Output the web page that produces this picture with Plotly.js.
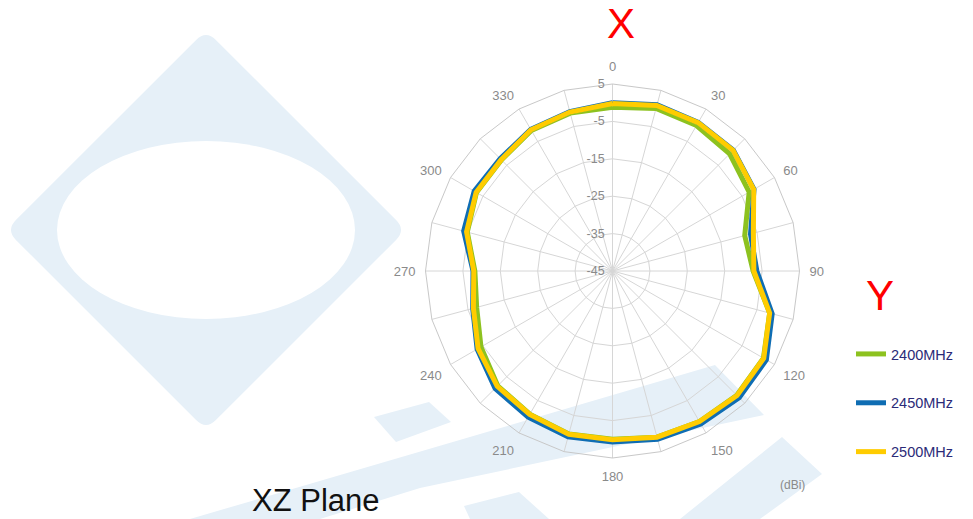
<!DOCTYPE html>
<html>
<head>
<meta charset="utf-8">
<script src="https://cdn.plot.ly/plotly-3.0.1.min.js"></script>
<style>
  html, body { margin: 0; padding: 0; background: #ffffff; }
  #chart { width: 973px; height: 519px; }
</style>
</head>
<body>
<div id="chart"></div>
<script>
// ---- Data (gain in dBi, every 15 degrees) ----
const angles = ['0','15','30','45','60','75','90','105','120','135','150','165',
                '180','195','210','225','240','255','270','285','300','315','330','345'];
const angleLabels = ['0','','30','','60','','90','','120','','150','',
                     '180','','210','','240','','270','','300','','330',''];
const seriesNames = ['2400MHz', '2450MHz', '2500MHz'];
const gain2400 = [-1.2, 0.0, -0.1, -0.7, -2.8, -8.4, -7.4, -1.5, 1.6, 2.0, 1.5, 1.0,
                  0.0, 0.1, -0.8, -1.6, -4.4, -7.4, -8.2, -4.8, -3.0, -3.0, -1.6, -1.3];
const gain2450 = [0.0, 1.0, 0.9, 0.7, -1.3, -6.8, -6.4, -0.8, 2.5, 2.9, 2.2, 1.6,
                  0.7, 0.9, 0.1, -0.6, -3.2, -6.3, -7.7, -3.8, -2.3, -2.5, -1.3, -0.9];
const gain2500 = [-0.2, 0.8, 0.8, 0.6, -1.4, -6.0, -7.2, -1.5, 1.7, 2.1, 1.5, 1.0,
                  0.1, 0.2, -0.7, -1.4, -3.5, -6.5, -7.9, -4.6, -2.9, -2.9, -1.4, -1.0];
const radialTicks = [-45, -35, -25, -15, -5, 5];

// ---- Page geometry helpers (decoration only) ----
const W = 973, H = 519;
const px = x => x / W;
const py = y => 1 - y / H;
function pathFromPx(pts) {
  return 'M' + pts.map(p => px(p[0]).toFixed(5) + ',' + py(p[1]).toFixed(5)).join(' L') + ' Z';
}
const wmColor = '#e6f0f8';

// rounded diamond of the watermark
function roundedDiamond(cx, cy, R, rc) {
  const v = [[cx, cy - R], [cx + R, cy], [cx, cy + R], [cx - R, cy]];
  let d = '';
  for (let i = 0; i < 4; i++) {
    const p = v[i], prev = v[(i + 3) % 4], next = v[(i + 1) % 4];
    const l1 = Math.hypot(prev[0] - p[0], prev[1] - p[1]);
    const l2 = Math.hypot(next[0] - p[0], next[1] - p[1]);
    const a = [p[0] + (prev[0] - p[0]) * rc / l1, p[1] + (prev[1] - p[1]) * rc / l1];
    const b = [p[0] + (next[0] - p[0]) * rc / l2, p[1] + (next[1] - p[1]) * rc / l2];
    d += (i === 0 ? 'M' : ' L') + px(a[0]).toFixed(5) + ',' + py(a[1]).toFixed(5);
    d += ' Q' + px(p[0]).toFixed(5) + ',' + py(p[1]).toFixed(5) + ' ' + px(b[0]).toFixed(5) + ',' + py(b[1]).toFixed(5);
  }
  return d + ' Z';
}

const shapes = [
  { type: 'path', xref: 'paper', yref: 'paper', layer: 'below',
    path: roundedDiamond(206, 230, 200, 14), fillcolor: wmColor, line: { width: 0 } },
  { type: 'circle', xref: 'paper', yref: 'paper', layer: 'below',
    x0: px(57), x1: px(355), y0: py(141), y1: py(319), fillcolor: '#ffffff', line: { width: 0 } },
  { type: 'path', xref: 'paper', yref: 'paper', layer: 'below',
    path: pathFromPx([[374, 417], [429, 402], [451, 422], [396, 442]]), fillcolor: wmColor, line: { width: 0 } },
  { type: 'path', xref: 'paper', yref: 'paper', layer: 'below',
    path: pathFromPx([[190, 519], [715, 365], [764, 415], [420, 488], [320, 519]]), fillcolor: wmColor, line: { width: 0 } },
  { type: 'path', xref: 'paper', yref: 'paper', layer: 'below',
    path: pathFromPx([[464, 506], [519, 492], [549, 519], [470, 519]]), fillcolor: wmColor, line: { width: 0 } },
  { type: 'path', xref: 'paper', yref: 'paper', layer: 'below',
    path: pathFromPx([[680, 519], [782, 437], [822, 474], [760, 519]]), fillcolor: wmColor, line: { width: 0 } }
];

function closed(arr) { return arr.concat([arr[0]]); }

const colors = ['#8dc21f', '#0f6db3', '#ffcc00'];
const widths = [5, 5, 5];
const gains = [gain2400, gain2450, gain2500];

const traces = gains.map((g, i) => ({
  type: 'scatterpolar',
  mode: 'lines',
  name: seriesNames[i],
  legendgroup: 'g' + i,
  r: closed(g),
  theta: closed(angles),
  line: { color: colors[i], width: widths[i] },
  hoverinfo: 'skip'
}));

const cx = 612.5, cy = 271, R = 187;

const layout = {
  width: W, height: H,
  margin: { l: 0, r: 0, t: 0, b: 0 },
  paper_bgcolor: '#ffffff',
  font: { family: 'Liberation Sans, Arial, sans-serif', color: '#888888', size: 12 },
  showlegend: true,
  legend: {
    x: px(851), y: py(338), xanchor: 'left', yanchor: 'top',
    bgcolor: 'rgba(0,0,0,0)', borderwidth: 0,
    tracegroupgap: 27,
    font: { family: 'Liberation Sans, Arial, sans-serif', size: 14.5, color: '#2b2a78' }
  },
  polar: {
    domain: { x: [px(cx - R), px(cx + R)], y: [py(cy + R), py(cy - R)] },
    bgcolor: 'rgba(0,0,0,0)',
    gridshape: 'linear',
    angularaxis: {
      type: 'category',
      categoryorder: 'array',
      categoryarray: angles,
      rotation: 90,
      direction: 'clockwise',
      tickmode: 'array',
      tickvals: angles,
      ticktext: angleLabels,
      ticks: 'outside',
      ticklen: 7,
      tickcolor: 'rgba(0,0,0,0)',
      showline: true,
      linecolor: '#c8c8c8',
      linewidth: 1,
      gridcolor: '#d6d6d6',
      tickfont: { size: 13, color: '#8a8a8a' }
    },
    radialaxis: {
      range: [-45, 5],
      tickmode: 'array',
      tickvals: radialTicks,
      ticktext: radialTicks.map(String),
      angle: 90,
      tickangle: 90,
      side: 'counterclockwise',
      ticks: 'outside',
      ticklen: 3,
      tickcolor: 'rgba(0,0,0,0)',
      showline: false,
      gridcolor: '#d6d6d6',
      tickfont: { size: 12.5, color: '#8a8a8a' }
    }
  },
  shapes: shapes,
  annotations: [
    { text: 'X', xref: 'paper', yref: 'paper', x: px(621), y: py(24), xanchor: 'center', yanchor: 'middle',
      showarrow: false, font: { size: 42, color: '#ff0000', family: 'Liberation Sans, Arial, sans-serif' } },
    { text: 'Y', xref: 'paper', yref: 'paper', x: px(880), y: py(295), xanchor: 'center', yanchor: 'middle',
      showarrow: false, font: { size: 42, color: '#ff0000', family: 'Liberation Sans, Arial, sans-serif' } },
    { text: 'XZ Plane', xref: 'paper', yref: 'paper', x: px(316), y: py(500), xanchor: 'center', yanchor: 'middle',
      showarrow: false, font: { size: 31, color: '#111111', family: 'Liberation Sans, Arial, sans-serif' } },
    { text: '(dBi)', xref: 'paper', yref: 'paper', x: px(792), y: py(485), xanchor: 'center', yanchor: 'middle',
      showarrow: false, font: { size: 12, color: '#8a8a8a', family: 'Liberation Sans, Arial, sans-serif' } }
  ]
};

Plotly.newPlot('chart', traces, layout, { displayModeBar: false, staticPlot: true });
</script>
</body>
</html>
